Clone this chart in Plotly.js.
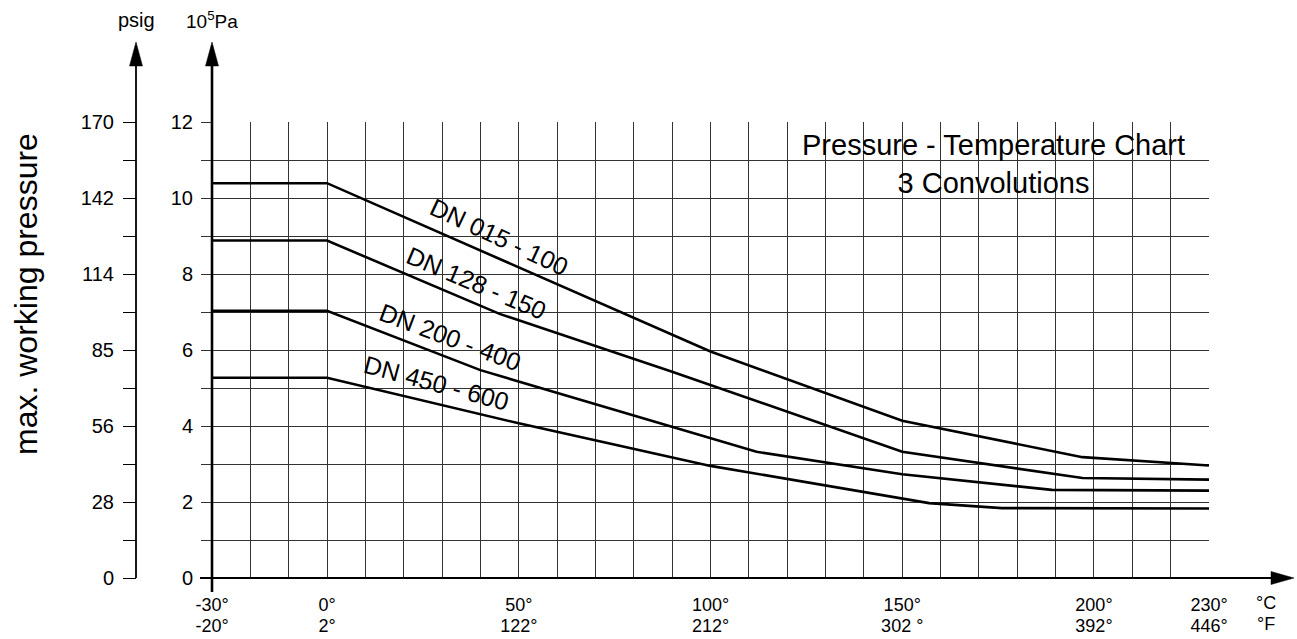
<!DOCTYPE html>
<html>
<head>
<meta charset="utf-8">
<script src="https://cdn.plot.ly/plotly-3.0.1.min.js"></script>
<style>html,body{margin:0;padding:0;background:#fff;}#chart{width:1297px;height:639px;}</style>
</head>
<body>
<div id="chart"></div>
<script>
// ---- data ----
const seriesNames = ['DN 015 - 100', 'DN 128 - 150', 'DN 200 - 400', 'DN 450 - 600'];
const tempDN015 = [-30, 0, 100, 150, 197, 230];
const presDN015 = [10.39, 10.39, 5.96, 4.14, 3.18, 2.96];
const tempDN128 = [-30, 0, 45, 90, 150, 197, 230];
const presDN128 = [8.88, 8.88, 6.95, 5.43, 3.32, 2.63, 2.59];
const tempDN200 = [-30, 0, 40, 112, 150, 189, 230];
const presDN200 = [7.03, 7.03, 5.47, 3.32, 2.73, 2.32, 2.30];
const tempDN450 = [-30, 0, 50, 100, 157, 176, 230];
const presDN450 = [5.27, 5.27, 4.07, 2.95, 1.97, 1.84, 1.83];

const celsiusTicks = [-30, 0, 50, 100, 150, 200, 230];
const celsiusLabels = ['-30°', '0°', '50°', '100°', '150°', '200°', '230°'];
const fahrenheitLabels = ['-20°', '2°', '122°', '212°', '302 °', '392°', '446°'];
const paTicks = [0, 2, 4, 6, 8, 10, 12];
const paLabels = ['0', '2', '4', '6', '8', '10', '12'];
const psigLabels = ['0', '28', '56', '85', '114', '142', '170'];

const chartTitle = 'Pressure - Temperature Chart<br>3 Convolutions';
const yTitle = 'max. working pressure';

// ---- layout helpers (pixel -> paper) ----
const W = 1297, H = 639;
const L = 100, R = 1209, T = 122, B = 578;
const px = p => (p - L) / (R - L);
const py = p => (B - p) / (B - T);
const FONT = 'Liberation Sans, Arial, Helvetica, sans-serif';

const temps = [tempDN015, tempDN128, tempDN200, tempDN450];
const press = [presDN015, presDN128, presDN200, presDN450];
const traces = temps.map((t, i) => ({
  type: 'scatter', mode: 'lines', x: t, y: press[i], name: seriesNames[i],
  line: {color: '#000', width: 2.6}, showlegend: false, hoverinfo: 'x+y+name'
}));

// label placement (style, not data)
const labelPos = [[45.1, 8.98, 25], [39.0, 7.76, 23], [32.1, 6.35, 20.5], [28.6, 5.12, 15]];
const annotations = seriesNames.map((n, i) => ({
  x: labelPos[i][0], y: labelPos[i][1], xref: 'x', yref: 'y', text: n, showarrow: false,
  xanchor: 'center', yanchor: 'middle',
  textangle: labelPos[i][2], font: {family: FONT, size: 25, color: '#000'}
}));
const paperText = (x, y, text, size, angle) => ({
  x: px(x), y: py(y), xref: 'paper', yref: 'paper', text: text, showarrow: false,
  xanchor: 'center', yanchor: 'middle', textangle: angle || 0,
  font: {family: FONT, size: size, color: '#000'}
});
annotations.push(
  paperText(136, 20, 'psig', 20),
  paperText(212, 20, '10<sup>5</sup>Pa', 19),
  paperText(26, 294, yTitle, 32, -90),
  paperText(1266, 603, '°C', 18),
  paperText(1266, 624, '°F', 18),
  paperText(993, 164, chartTitle, 29)
);

const tri = (pts) => 'M' + pts.map(p => px(p[0]) + ',' + py(p[1])).join(' L') + ' Z';
const shapes = [
  // Pa axis
  {type: 'line', xref: 'paper', yref: 'paper', x0: px(212), x1: px(212), y0: py(592), y1: py(62), line: {color: '#000', width: 2.6}},
  {type: 'path', xref: 'paper', yref: 'paper', path: tri([[212, 42], [205.5, 66], [218.5, 66]]), fillcolor: '#000', line: {color: '#000', width: 0.5}},
  // psig axis
  {type: 'line', xref: 'paper', yref: 'paper', x0: px(136), x1: px(136), y0: py(578), y1: py(62), line: {color: '#000', width: 1.8}},
  {type: 'path', xref: 'paper', yref: 'paper', path: tri([[136, 42], [129.5, 66], [142.5, 66]]), fillcolor: '#000', line: {color: '#000', width: 0.5}},
  // temperature axis
  {type: 'line', xref: 'paper', yref: 'paper', x0: px(200), x1: px(1276), y0: py(578), y1: py(578), line: {color: '#000', width: 2.2}},
  {type: 'path', xref: 'paper', yref: 'paper', path: tri([[1294, 578], [1271, 571.5], [1271, 584.5]]), fillcolor: '#000', line: {color: '#000', width: 0.5}}
];

const layout = {
  width: W, height: H,
  margin: {l: L, r: W - R, t: T, b: H - B, pad: 0},
  paper_bgcolor: '#fff', plot_bgcolor: '#fff',
  showlegend: false,
  xaxis: {
    domain: [px(212), 1], range: [-30, 230], anchor: 'y',
    tickmode: 'array', tickvals: celsiusTicks, ticktext: celsiusLabels,
    ticks: '', showline: false, zeroline: false,
    showgrid: true, gridcolor: '#333', gridwidth: 1,
    minor: {tick0: -30, dtick: 10, showgrid: true, gridcolor: '#333', gridwidth: 1, ticks: ''},
    tickfont: {family: FONT, size: 18, color: '#000'}, ticklabelstandoff: 14,
    fixedrange: true
  },
  xaxis2: {
    overlaying: 'x', matches: 'x', anchor: 'y', side: 'bottom', range: [-30, 230],
    tickmode: 'array', tickvals: celsiusTicks, ticktext: fahrenheitLabels,
    ticks: '', showline: false, zeroline: false, showgrid: false,
    tickfont: {family: FONT, size: 18, color: '#000'}, ticklabelstandoff: 35,
    fixedrange: true
  },
  yaxis: {
    domain: [0, 1], range: [0, 12], anchor: 'free', position: px(212),
    tickmode: 'array', tickvals: paTicks, ticktext: paLabels,
    ticks: 'outside', ticklen: 11, tickcolor: '#333', tickwidth: 1,
    showline: false, zeroline: false,
    showgrid: true, gridcolor: '#333', gridwidth: 1,
    minor: {tick0: 0, dtick: 1, showgrid: true, gridcolor: '#333', gridwidth: 1,
            ticks: 'outside', ticklen: 11, tickcolor: '#333', tickwidth: 1},
    tickfont: {family: FONT, size: 20, color: '#000'}, ticklabelstandoff: 4,
    fixedrange: true
  },
  yaxis2: {
    overlaying: 'y', anchor: 'free', position: px(136), side: 'left', range: [0, 12],
    tickmode: 'array', tickvals: paTicks, ticktext: psigLabels,
    ticks: 'outside', ticklen: 13, tickcolor: '#000', tickwidth: 1,
    showline: false, zeroline: false, showgrid: false,
    minor: {tick0: 0, dtick: 1, showgrid: false,
            ticks: 'outside', ticklen: 13, tickcolor: '#000', tickwidth: 1},
    tickfont: {family: FONT, size: 20, color: '#000'}, ticklabelstandoff: 5,
    fixedrange: true
  },
  shapes: shapes,
  annotations: annotations
};

// an invisible trace so that the secondary axes are drawn
traces.push({type: 'scatter', mode: 'lines', x: [-30, 230], y: [0, 0], xaxis: 'x2', yaxis: 'y2',
  line: {color: 'rgba(0,0,0,0)', width: 0}, hoverinfo: 'skip', showlegend: false});

Plotly.newPlot('chart', traces, layout, {staticPlot: true, displayModeBar: false});
</script>
</body>
</html>
